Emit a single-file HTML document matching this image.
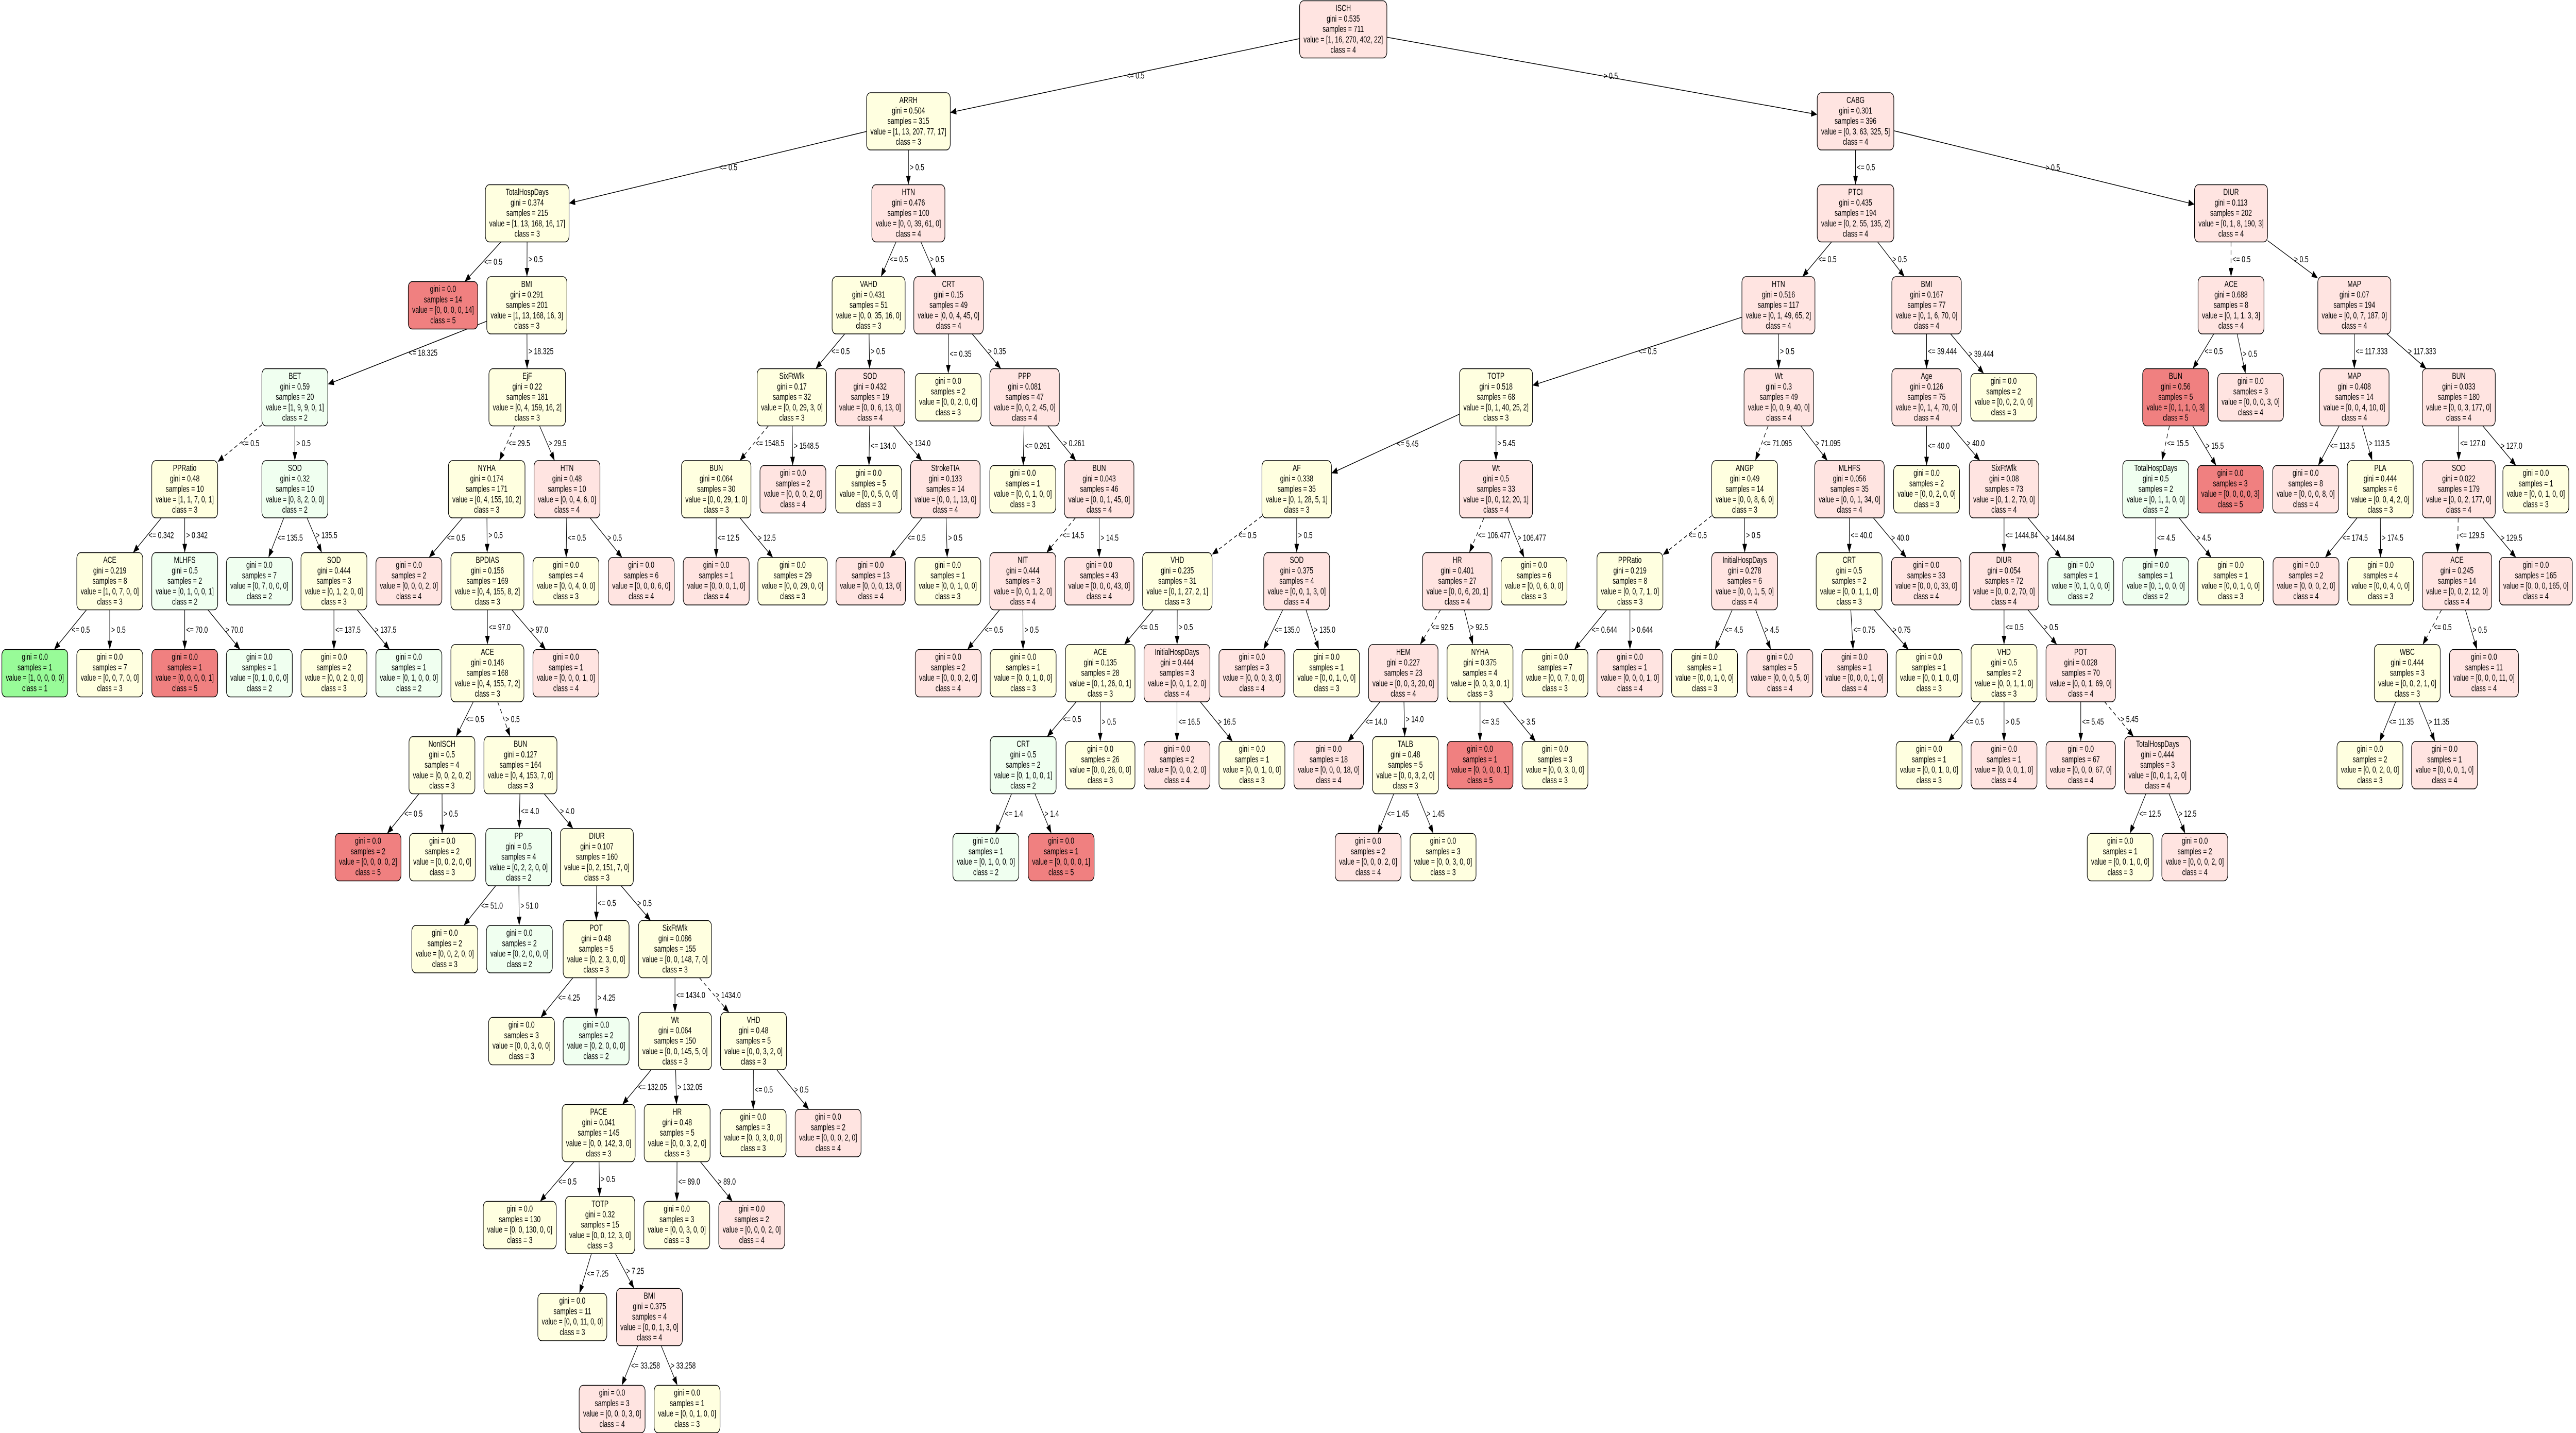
<!DOCTYPE html>
<html>
<head>
<meta charset="utf-8">
<meta name="viewport" content="width=7251">
<style>
html,body{margin:0;padding:0;background:#fff;width:100vw;height:100vh;overflow:hidden;}
svg{display:block;position:absolute;left:0;top:0;width:100vw;height:100vh;overflow:hidden;}
text{font-family:"Liberation Sans",Arial,sans-serif;font-size:18px;fill:#000;}
</style>
</head>
<body>
<svg id="tree" viewBox="0 0 7251 2781" preserveAspectRatio="none" xmlns="http://www.w3.org/2000/svg">
<rect x="0" y="0" width="7251" height="2781" fill="#ffffff"/>
<g id="edges"></g>
<g id="nodes"></g>
</svg>
<script>
const nodeParent=[-1,0,0,1,1,3,3,6,6,7,7,9,9,11,11,12,12,10,10,18,18,8,8,21,21,22,22,24,24,27,27,29,29,30,30,33,33,34,34,37,37,38,38,41,41,42,42,43,43,44,44,48,48,52,52,4,4,55,55,57,57,59,59,58,58,64,64,56,56,68,68,70,70,71,71,2,2,75,75,77,77,79,79,81,81,83,83,85,85,87,87,86,86,84,84,82,82,95,95,97,97,100,100,98,98,80,80,105,105,107,107,108,108,106,106,113,113,78,78,117,117,120,120,121,121,123,123,124,124,128,128,76,76,131,131,133,133,135,135,132,132,139,139,142,142,140,140,145,145,147,147,149,149];
const nodeCenterX=[3781,2557,5223,1484,2557,1247,1483,830,1484,520,830,309,520,98,309,520,730,730,940,940,1151,1370,1596,1151,1372,1593,1805,1372,1593,1244,1465,1036,1245,1460,1680,1252,1462,1678,1900,1468,1678,1900,2121,1685,1906,2120,2331,1463,1689,1905,2116,1611,1828,1723,1934,2445,2670,2229,2449,2016,2232,2016,2231,2445,2661,2451,2668,2669,2884,2879,3094,2879,3094,2669,2880,5223,6280,5006,5423,4211,5007,3650,4211,3314,3650,3097,3313,2880,3097,2775,2987,3313,3524,3524,3734,4102,4318,3950,4166,3740,3956,3851,4062,4166,4377,4911,5206,4588,4911,4377,4588,4798,5010,5205,5422,5220,5430,5423,5640,5423,5641,5641,5857,5641,5857,5430,5641,5857,6073,5968,6178,6280,6627,6124,6335,6068,6278,6068,6279,6627,6921,6490,6700,6491,6701,6921,7138,6916,7138,6776,6992,6671,6881];
const nodeFeature=["ISCH","ARRH","CABG","TotalHospDays","HTN","","BMI","BET","EjF","PPRatio","SOD","ACE","MLHFS","","","","","","SOD","","","NYHA","HTN","","BPDIAS","","","ACE","","NonISCH","BUN","","","PP","DIUR","","","POT","SixFtWlk","","","Wt","VHD","PACE","HR","","","","TOTP","","","","BMI","","","VAHD","CRT","SixFtWlk","SOD","BUN","","","","","StrokeTIA","","","","PPP","","BUN","NIT","","","","PTCI","DIUR","HTN","BMI","TOTP","Wt","AF","Wt","VHD","SOD","ACE","InitialHospDays","CRT","","","","","","","","HR","","HEM","NYHA","","TALB","","","","","ANGP","MLHFS","PPRatio","InitialHospDays","","","","","CRT","","","","Age","","","SixFtWlk","DIUR","","VHD","POT","","","","TotalHospDays","","","ACE","MAP","BUN","","TotalHospDays","","","","MAP","BUN","","PLA","","","SOD","","ACE","","WBC","","",""];
const nodeThreshold=["0.5","0.5","0.5","0.5","0.5","","18.325","0.5","29.5","0.342","135.5","0.5","70.0","","","","","","137.5","","","0.5","0.5","","97.0","","","0.5","","0.5","4.0","","","51.0","0.5","","","4.25","1434.0","","","132.05","0.5","0.5","89.0","","","","7.25","","","","33.258","","","0.5","0.35","1548.5","134.0","12.5","","","","","0.5","","","","0.261","","14.5","0.5","","","","0.5","0.5","0.5","39.444","5.45","71.095","0.5","106.477","0.5","135.0","0.5","16.5","1.4","","","","","","","","92.5","","14.0","3.5","","1.45","","","","","0.5","40.0","0.644","4.5","","","","","0.75","","","","40.0","","","1444.84","0.5","","0.5","5.45","","","","12.5","","","0.5","117.333","15.5","","4.5","","","","113.5","127.0","","174.5","","","129.5","","0.5","","11.35","","",""];
const nodeGini=["0.535","0.504","0.301","0.374","0.476","0.0","0.291","0.59","0.22","0.48","0.32","0.219","0.5","0.0","0.0","0.0","0.0","0.0","0.444","0.0","0.0","0.174","0.48","0.0","0.156","0.0","0.0","0.146","0.0","0.5","0.127","0.0","0.0","0.5","0.107","0.0","0.0","0.48","0.086","0.0","0.0","0.064","0.48","0.041","0.48","0.0","0.0","0.0","0.32","0.0","0.0","0.0","0.375","0.0","0.0","0.431","0.15","0.17","0.432","0.064","0.0","0.0","0.0","0.0","0.133","0.0","0.0","0.0","0.081","0.0","0.043","0.444","0.0","0.0","0.0","0.435","0.113","0.516","0.167","0.518","0.3","0.338","0.5","0.235","0.375","0.135","0.444","0.5","0.0","0.0","0.0","0.0","0.0","0.0","0.0","0.401","0.0","0.227","0.375","0.0","0.48","0.0","0.0","0.0","0.0","0.49","0.056","0.219","0.278","0.0","0.0","0.0","0.0","0.5","0.0","0.0","0.0","0.126","0.0","0.0","0.08","0.054","0.0","0.5","0.028","0.0","0.0","0.0","0.444","0.0","0.0","0.688","0.07","0.56","0.0","0.5","0.0","0.0","0.0","0.408","0.033","0.0","0.444","0.0","0.0","0.022","0.0","0.245","0.0","0.444","0.0","0.0","0.0"];
const nodeSamples=[711,315,396,215,100,14,201,20,181,10,10,8,2,1,7,1,1,7,3,2,1,171,10,2,169,4,6,168,1,4,164,2,2,4,160,2,2,5,155,3,2,150,5,145,5,3,2,130,15,3,2,11,4,3,1,51,49,32,19,30,2,1,29,5,14,13,1,2,47,1,46,3,43,2,1,194,202,117,77,68,49,35,33,31,4,28,3,2,26,1,1,2,1,3,1,27,6,23,4,18,5,2,3,1,3,14,35,8,6,7,1,1,5,2,33,1,1,75,2,2,73,72,1,2,70,1,1,67,3,1,2,8,194,5,3,2,3,1,1,14,180,8,6,2,4,179,1,14,165,3,11,2,1];
const nodeValue=[[1,16,270,402,22],[1,13,207,77,17],[0,3,63,325,5],[1,13,168,16,17],[0,0,39,61,0],[0,0,0,0,14],[1,13,168,16,3],[1,9,9,0,1],[0,4,159,16,2],[1,1,7,0,1],[0,8,2,0,0],[1,0,7,0,0],[0,1,0,0,1],[1,0,0,0,0],[0,0,7,0,0],[0,0,0,0,1],[0,1,0,0,0],[0,7,0,0,0],[0,1,2,0,0],[0,0,2,0,0],[0,1,0,0,0],[0,4,155,10,2],[0,0,4,6,0],[0,0,0,2,0],[0,4,155,8,2],[0,0,4,0,0],[0,0,0,6,0],[0,4,155,7,2],[0,0,0,1,0],[0,0,2,0,2],[0,4,153,7,0],[0,0,0,0,2],[0,0,2,0,0],[0,2,2,0,0],[0,2,151,7,0],[0,0,2,0,0],[0,2,0,0,0],[0,2,3,0,0],[0,0,148,7,0],[0,0,3,0,0],[0,2,0,0,0],[0,0,145,5,0],[0,0,3,2,0],[0,0,142,3,0],[0,0,3,2,0],[0,0,3,0,0],[0,0,0,2,0],[0,0,130,0,0],[0,0,12,3,0],[0,0,3,0,0],[0,0,0,2,0],[0,0,11,0,0],[0,0,1,3,0],[0,0,0,3,0],[0,0,1,0,0],[0,0,35,16,0],[0,0,4,45,0],[0,0,29,3,0],[0,0,6,13,0],[0,0,29,1,0],[0,0,0,2,0],[0,0,0,1,0],[0,0,29,0,0],[0,0,5,0,0],[0,0,1,13,0],[0,0,0,13,0],[0,0,1,0,0],[0,0,2,0,0],[0,0,2,45,0],[0,0,1,0,0],[0,0,1,45,0],[0,0,1,2,0],[0,0,0,43,0],[0,0,0,2,0],[0,0,1,0,0],[0,2,55,135,2],[0,1,8,190,3],[0,1,49,65,2],[0,1,6,70,0],[0,1,40,25,2],[0,0,9,40,0],[0,1,28,5,1],[0,0,12,20,1],[0,1,27,2,1],[0,0,1,3,0],[0,1,26,0,1],[0,0,1,2,0],[0,1,0,0,1],[0,0,26,0,0],[0,1,0,0,0],[0,0,0,0,1],[0,0,0,2,0],[0,0,1,0,0],[0,0,0,3,0],[0,0,1,0,0],[0,0,6,20,1],[0,0,6,0,0],[0,0,3,20,0],[0,0,3,0,1],[0,0,0,18,0],[0,0,3,2,0],[0,0,0,2,0],[0,0,3,0,0],[0,0,0,0,1],[0,0,3,0,0],[0,0,8,6,0],[0,0,1,34,0],[0,0,7,1,0],[0,0,1,5,0],[0,0,7,0,0],[0,0,0,1,0],[0,0,1,0,0],[0,0,0,5,0],[0,0,1,1,0],[0,0,0,33,0],[0,0,0,1,0],[0,0,1,0,0],[0,1,4,70,0],[0,0,2,0,0],[0,0,2,0,0],[0,1,2,70,0],[0,0,2,70,0],[0,1,0,0,0],[0,0,1,1,0],[0,0,1,69,0],[0,0,1,0,0],[0,0,0,1,0],[0,0,0,67,0],[0,0,1,2,0],[0,0,1,0,0],[0,0,0,2,0],[0,1,1,3,3],[0,0,7,187,0],[0,1,1,0,3],[0,0,0,3,0],[0,1,1,0,0],[0,0,0,0,3],[0,1,0,0,0],[0,0,1,0,0],[0,0,4,10,0],[0,0,3,177,0],[0,0,0,8,0],[0,0,4,2,0],[0,0,0,2,0],[0,0,4,0,0],[0,0,2,177,0],[0,0,1,0,0],[0,0,2,12,0],[0,0,0,165,0],[0,0,2,1,0],[0,0,0,11,0],[0,0,2,0,0],[0,0,0,1,0]];
const nodeClass=[4,3,4,3,4,5,3,2,3,3,2,3,2,1,3,5,2,2,3,3,2,3,4,4,3,3,4,3,4,3,3,5,3,2,3,3,2,3,3,3,2,3,3,3,3,3,4,3,3,3,4,3,4,4,3,3,4,3,4,3,4,4,3,3,4,4,3,3,4,3,4,4,4,4,3,4,4,4,4,3,4,3,4,3,4,3,4,2,3,2,5,4,3,4,3,4,3,4,3,4,3,4,3,5,3,3,4,3,4,3,4,3,4,3,4,4,3,4,3,3,4,4,2,3,4,3,4,4,4,3,4,4,4,5,4,2,5,2,3,4,4,4,3,4,3,4,3,4,4,3,4,3,4];
const dashedEdgeChildren=[9,21,30,42,59,71,83,95,97,105,107,128,131,135,147,149];

const classFill={1:"#98fb98",2:"#f0fff0",3:"#ffffe0",4:"#ffe4e1",5:"#f08080"};
const NS="http://www.w3.org/2000/svg";
const LEVEL_Y0=57, LEVEL_DY=178.5, LINE_H=20.3;

function depthOf(i){let d=0;while(nodeParent[i]>=0){i=nodeParent[i];d++;}return d;}
function centerY(i){return LEVEL_Y0+LEVEL_DY*depthOf(i);}

const nodesLayer=document.getElementById('nodes');
const edgesLayer=document.getElementById('edges');
const boxes=[];

for(let i=0;i<nodeParent.length;i++){
  const lines=[];
  if(nodeFeature[i]) lines.push(nodeFeature[i]);
  lines.push("gini = "+nodeGini[i]);
  lines.push("samples = "+nodeSamples[i]);
  lines.push("value = ["+nodeValue[i].join(", ")+"]");
  lines.push("class = "+nodeClass[i]);
  const h = lines.length===5 ? 111 : 92;
  const cx=nodeCenterX[i], cy=centerY(i);
  const top=cy-h/2;
  const g=document.createElementNS(NS,'g');
  
  
  const rect=document.createElementNS(NS,'rect');
  
  
  g.appendChild(rect);
  let maxW=0;
  lines.forEach((t,k)=>{
    const tx=document.createElementNS(NS,'text');
    
    
    tx.setAttribute('x',cx);
    tx.setAttribute('y',top+20+k*LINE_H);
    tx.setAttribute('text-anchor','middle');
    tx.textContent=t;
    g.appendChild(tx);
  });
  nodesLayer.appendChild(g);
  g.querySelectorAll('text').forEach(t=>{maxW=Math.max(maxW,t.getComputedTextLength());});
  let w=maxW+22;
  if(cx+w/2>7246) w=2*(7246-cx);
  rect.setAttribute('x',cx-w/2);
  rect.setAttribute('y',top);
  rect.setAttribute('width',w);
  rect.setAttribute('height',h);
  rect.setAttribute('rx',11);
  rect.setAttribute('fill',classFill[nodeClass[i]]);
  rect.setAttribute('stroke','#000');
  rect.setAttribute('stroke-width','1.6');
  boxes[i]={cx:cx,cy:cy,hw:w/2,hh:h/2};
}

function clipT(b,dx,dy){
  const tx = dx===0 ? Infinity : b.hw/Math.abs(dx);
  const ty = dy===0 ? Infinity : b.hh/Math.abs(dy);
  return Math.min(tx,ty);
}

const childCount={};
for(let i=1;i<nodeParent.length;i++){
  const p=nodeParent[i];
  childCount[p]=(childCount[p]||0)+1;
  const isLeft = childCount[p]===1;
  const P=boxes[p], C=boxes[i];
  const dx=C.cx-P.cx, dy=C.cy-P.cy;
  const tp=clipT(P,dx,dy), tc=clipT(C,dx,dy);
  const sx=P.cx+dx*tp, sy=P.cy+dy*tp;
  const ex=C.cx-dx*tc, ey=C.cy-dy*tc;
  const len=Math.hypot(ex-sx,ey-sy);
  const ux=(ex-sx)/len, uy=(ey-sy)/len;
  const AL=17, AW=6.5;
  const bx=ex-ux*AL, by=ey-uy*AL;
  const line=document.createElementNS(NS,'line');
  
  
  line.setAttribute('x1',sx);line.setAttribute('y1',sy);
  line.setAttribute('x2',bx);line.setAttribute('y2',by);
  line.setAttribute('stroke','#000');line.setAttribute('stroke-width','1.5');
  if(dashedEdgeChildren.indexOf(i)>=0) line.setAttribute('stroke-dasharray','9,7');
  edgesLayer.appendChild(line);
  const arrow=document.createElementNS(NS,'polygon');
  
  
  arrow.setAttribute('points',[ex+','+ey,(bx-uy*AW)+','+(by+ux*AW),(bx+uy*AW)+','+(by-ux*AW)].join(' '));
  arrow.setAttribute('fill','#000');
  edgesLayer.appendChild(arrow);
  const lab=document.createElementNS(NS,'text');
  
  
  lab.setAttribute('x',(sx+ex)/2+4);
  lab.setAttribute('y',(sy+ey)/2+6);
  lab.setAttribute('text-anchor','start');
  lab.textContent=(isLeft?'<= ':'> ')+nodeThreshold[p];
  edgesLayer.appendChild(lab);
}
</script>
</body>
</html>
